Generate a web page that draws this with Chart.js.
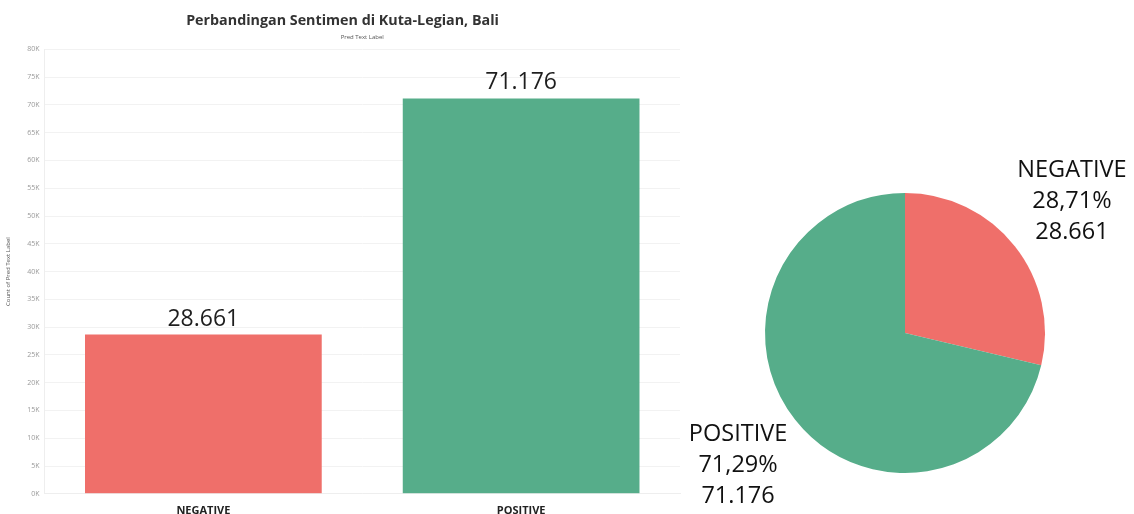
<!DOCTYPE html>
<html>
<head>
<meta charset="utf-8">
<script src="https://cdn.jsdelivr.net/npm/chart.js@4.4.1/dist/chart.umd.min.js"></script>
<style>
  html, body { margin: 0; padding: 0; background: #fff; }
  #wrap { position: relative; width: 1134px; height: 514px; overflow: hidden; }
  #barBox { position: absolute; left: 0; top: 0; width: 690px; height: 514px; }
  #pieBox { position: absolute; left: 690px; top: 0; width: 444px; height: 514px; }
</style>
</head>
<body>
<div id="wrap">
  <div id="barBox"><canvas id="barChart"></canvas></div>
  <div id="pieBox"><canvas id="pieChart"></canvas></div>
</div>
<script>
// data
const categories = ['NEGATIVE', 'POSITIVE'];
const counts = [28661, 71176];
const percentLabels = ['28,71%', '71,29%'];
const sentimentColors = ['#EF6F6A', '#56AD8A'];

const fmt = n => n.toLocaleString('de-DE');

// value labels on top of the bars
const barValueLabels = {
  id: 'barValueLabels',
  afterDatasetsDraw(chart) {
    const ctx = chart.ctx;
    const meta = chart.getDatasetMeta(0);
    ctx.save();
    ctx.font = '23px "Open Sans"';
    ctx.fillStyle = '#1e1e1e';
    ctx.textAlign = 'center';
    ctx.textBaseline = 'bottom';
    meta.data.forEach((bar, i) => {
      ctx.fillText(fmt(counts[i]), bar.x, bar.y - 4);
    });
    ctx.restore();
  }
};

new Chart(document.getElementById('barChart'), {
  type: 'bar',
  data: {
    labels: categories,
    datasets: [{
      data: counts,
      backgroundColor: sentimentColors,
      categoryPercentage: 1,
      barPercentage: 0.745
    }]
  },
  plugins: [barValueLabels],
  options: {
    responsive: true,
    maintainAspectRatio: false,
    animation: false,
    layout: { padding: { left: 5, right: 10, top: 0, bottom: -5 } },
    plugins: {
      legend: { display: false },
      tooltip: { enabled: false },
      title: {
        display: true,
        text: 'Perbandingan Sentimen di Kuta-Legian, Bali',
        color: '#333',
        font: { family: 'Open Sans', size: 14.3, weight: 'bold' },
        padding: { top: 12, bottom: 5 }
      }
    },
    scales: {
      x: {
        grid: { display: false },
        border: { color: '#eeeeee' },
        ticks: {
          color: '#222',
          padding: 2,
          font: { family: 'Open Sans', size: 11, weight: 'bold' }
        }
      },
      xTop: {
        position: 'top',
        type: 'category',
        labels: categories,
        grid: { display: false },
        border: { display: false },
        ticks: { display: false },
        title: {
          display: true,
          text: 'Pred Text Label',
          color: '#555',
          font: { family: 'Open Sans', size: 6 },
          padding: { top: 0, bottom: 0 }
        }
      },
      y: {
        min: 0,
        max: 80000,
        ticks: {
          stepSize: 5000,
          color: '#999',
          padding: 5,
          font: { family: 'Open Sans', size: 7 },
          callback: v => (v / 1000) + 'K'
        },
        grid: { color: '#f2f2f2', drawTicks: false },
        border: { color: '#eeeeee' },
        title: {
          display: true,
          text: 'Count of Pred Text Label',
          color: '#555',
          font: { family: 'Open Sans', size: 6 },
          padding: { top: 0, bottom: 10 }
        }
      }
    }
  }
});

// pie labels placed along each slice's mid-angle
const pieLabels = {
  id: 'pieLabels',
  afterDraw(chart) {
    const ctx = chart.ctx;
    const meta = chart.getDatasetMeta(0);
    ctx.save();
    ctx.font = '23.5px "Open Sans"';
    ctx.fillStyle = '#111';
    ctx.textAlign = 'center';
    ctx.textBaseline = 'middle';
    meta.data.forEach((arc, i) => {
      const mid = (arc.startAngle + arc.endAngle) / 2;
      const d = arc.outerRadius * 1.52;
      const x = arc.x + Math.cos(mid) * d;
      const y = arc.y + Math.sin(mid) * d;
      const lines = [categories[i], percentLabels[i], fmt(counts[i])];
      lines.forEach((t, j) => ctx.fillText(t, x, y + (j - 1) * 31));
    });
    ctx.restore();
  }
};

new Chart(document.getElementById('pieChart'), {
  type: 'pie',
  data: {
    labels: categories,
    datasets: [{
      data: counts,
      backgroundColor: sentimentColors,
      borderWidth: 0
    }]
  },
  plugins: [pieLabels],
  options: {
    responsive: true,
    maintainAspectRatio: false,
    animation: false,
    layout: { padding: { left: 75, right: 89, top: 193, bottom: 41 } },
    plugins: {
      legend: { display: false },
      tooltip: { enabled: false }
    }
  }
});
</script>
</body>
</html>
